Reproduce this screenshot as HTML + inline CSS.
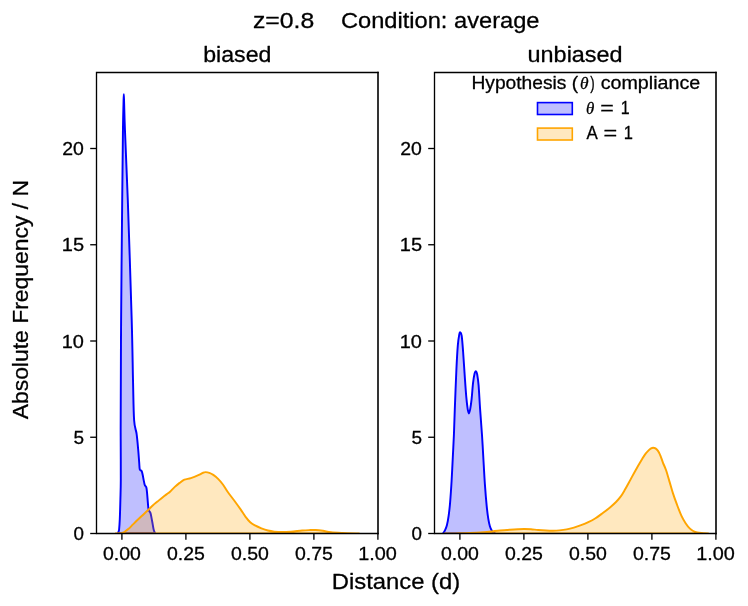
<!DOCTYPE html>
<html lang="en">
<head>
<meta charset="utf-8">
<title>z=0.8 Condition: average</title>
<style>
html,body{margin:0;padding:0;background:#fff;}
body{width:748px;height:606px;overflow:hidden;font-family:"Liberation Sans",sans-serif;}
svg{display:block;will-change:transform;}
svg text{stroke:#000;stroke-width:0.28px;stroke-linejoin:round;}
</style>
</head>
<body>
<svg width="748" height="606" viewBox="0 0 748 606" font-family='"Liberation Sans", sans-serif' fill="#000">
<rect width="748" height="606" fill="#fff"/>
<g>
<clipPath id="c0"><rect x="96.30" y="72.50" width="281.60" height="461.00"/></clipPath>
<g clip-path="url(#c0)">
<path d="M118.00,533.30 C118.10,533.00 118.42,532.13 118.60,531.50 C118.78,530.87 118.90,531.58 119.10,529.50 C119.30,527.42 119.58,524.05 119.80,519.00 C120.02,513.95 120.23,505.80 120.40,499.20 C120.57,492.60 120.75,489.27 120.80,479.40 C120.85,469.53 120.72,449.90 120.70,440.00 C120.68,430.10 120.63,440.00 120.70,420.00 C120.77,400.00 120.85,356.67 121.10,320.00 C121.35,283.33 121.89,231.67 122.20,200.00 C122.51,168.33 122.73,146.00 122.95,130.00 C123.17,114.00 123.36,109.95 123.50,104.00 C123.64,98.05 123.69,94.30 123.80,94.30 C123.91,94.30 123.96,98.05 124.15,104.00 C124.34,109.95 124.34,114.00 124.95,130.00 C125.56,146.00 126.67,168.33 127.80,200.00 C128.92,231.67 130.83,290.00 131.70,320.00 C132.57,350.00 132.60,363.33 133.00,380.00 C133.40,396.67 133.50,411.02 134.10,420.00 C134.70,428.98 135.92,428.95 136.60,433.90 C137.28,438.85 137.77,444.92 138.20,449.70 C138.63,454.48 138.93,459.30 139.20,462.60 C139.47,465.90 139.40,468.12 139.80,469.50 C140.20,470.88 141.13,470.07 141.60,470.90 C142.07,471.73 142.10,472.25 142.60,474.50 C143.10,476.75 143.98,482.27 144.60,484.40 C145.22,486.53 145.88,485.82 146.30,487.30 C146.72,488.78 146.83,490.65 147.10,493.30 C147.37,495.95 147.63,500.40 147.90,503.20 C148.17,506.00 148.27,508.45 148.70,510.10 C149.13,511.75 149.93,511.28 150.50,513.10 C151.07,514.92 151.60,518.37 152.10,521.00 C152.60,523.63 153.12,527.10 153.50,528.90 C153.88,530.70 154.12,531.07 154.40,531.80 C154.68,532.53 155.07,533.05 155.20,533.30 Z" fill="#0000ff" fill-opacity="0.25" stroke="none"/>
<path d="M118.00,533.30 C118.10,533.00 118.42,532.13 118.60,531.50 C118.78,530.87 118.90,531.58 119.10,529.50 C119.30,527.42 119.58,524.05 119.80,519.00 C120.02,513.95 120.23,505.80 120.40,499.20 C120.57,492.60 120.75,489.27 120.80,479.40 C120.85,469.53 120.72,449.90 120.70,440.00 C120.68,430.10 120.63,440.00 120.70,420.00 C120.77,400.00 120.85,356.67 121.10,320.00 C121.35,283.33 121.89,231.67 122.20,200.00 C122.51,168.33 122.73,146.00 122.95,130.00 C123.17,114.00 123.36,109.95 123.50,104.00 C123.64,98.05 123.69,94.30 123.80,94.30 C123.91,94.30 123.96,98.05 124.15,104.00 C124.34,109.95 124.34,114.00 124.95,130.00 C125.56,146.00 126.67,168.33 127.80,200.00 C128.92,231.67 130.83,290.00 131.70,320.00 C132.57,350.00 132.60,363.33 133.00,380.00 C133.40,396.67 133.50,411.02 134.10,420.00 C134.70,428.98 135.92,428.95 136.60,433.90 C137.28,438.85 137.77,444.92 138.20,449.70 C138.63,454.48 138.93,459.30 139.20,462.60 C139.47,465.90 139.40,468.12 139.80,469.50 C140.20,470.88 141.13,470.07 141.60,470.90 C142.07,471.73 142.10,472.25 142.60,474.50 C143.10,476.75 143.98,482.27 144.60,484.40 C145.22,486.53 145.88,485.82 146.30,487.30 C146.72,488.78 146.83,490.65 147.10,493.30 C147.37,495.95 147.63,500.40 147.90,503.20 C148.17,506.00 148.27,508.45 148.70,510.10 C149.13,511.75 149.93,511.28 150.50,513.10 C151.07,514.92 151.60,518.37 152.10,521.00 C152.60,523.63 153.12,527.10 153.50,528.90 C153.88,530.70 154.12,531.07 154.40,531.80 C154.68,532.53 155.07,533.05 155.20,533.30 L118.00,533.30" fill="none" stroke="#0000ff" stroke-width="1.95" stroke-linejoin="round" stroke-linecap="butt"/>
<path d="M115.00,533.50 C115.75,533.47 118.19,533.45 119.50,533.30 C120.81,533.15 121.88,532.94 122.85,532.60 C123.82,532.26 124.34,531.88 125.30,531.25 C126.26,530.62 127.36,529.90 128.60,528.80 C129.84,527.70 131.37,526.03 132.75,524.65 C134.13,523.27 135.25,522.08 136.90,520.50 C138.55,518.92 140.73,516.98 142.65,515.20 C144.57,513.42 146.68,511.45 148.40,509.80 C150.12,508.15 151.48,506.68 153.00,505.30 C154.52,503.93 155.92,502.87 157.50,501.55 C159.08,500.23 160.75,498.77 162.50,497.40 C164.25,496.02 166.75,494.25 168.00,493.30 C169.25,492.35 168.87,492.77 170.00,491.70 C171.13,490.63 173.20,488.37 174.80,486.90 C176.40,485.43 178.00,484.10 179.60,482.90 C181.20,481.70 182.52,480.50 184.40,479.70 C186.28,478.90 188.48,478.90 190.90,478.10 C193.32,477.30 196.90,475.78 198.90,474.90 C200.90,474.02 201.78,473.27 202.90,472.80 C204.02,472.33 204.53,472.10 205.60,472.10 C206.67,472.10 208.02,472.33 209.30,472.80 C210.58,473.27 211.83,473.88 213.30,474.90 C214.77,475.92 216.50,477.30 218.10,478.90 C219.70,480.50 221.28,482.32 222.90,484.50 C224.52,486.68 225.92,489.33 227.80,492.00 C229.68,494.67 232.07,497.60 234.20,500.50 C236.33,503.40 238.73,506.72 240.60,509.40 C242.47,512.08 243.80,514.47 245.40,516.60 C247.00,518.73 248.60,520.73 250.20,522.20 C251.80,523.67 253.13,524.38 255.00,525.40 C256.87,526.42 259.25,527.45 261.40,528.30 C263.55,529.15 265.75,529.95 267.90,530.50 C270.05,531.05 271.90,531.35 274.30,531.60 C276.70,531.85 279.53,532.00 282.30,532.00 C285.07,532.00 287.60,531.85 290.90,531.60 C294.20,531.35 299.08,530.75 302.10,530.50 C305.12,530.25 306.73,530.18 309.00,530.10 C311.27,530.02 313.38,529.88 315.70,530.00 C318.02,530.12 320.35,530.42 322.90,530.80 C325.45,531.18 327.78,531.93 331.00,532.30 C334.22,532.67 337.53,532.80 342.20,533.00 C346.87,533.20 356.20,533.42 359.00,533.50 Z" fill="#ffa500" fill-opacity="0.25" stroke="none"/>
<path d="M115.00,533.50 C115.75,533.47 118.19,533.45 119.50,533.30 C120.81,533.15 121.88,532.94 122.85,532.60 C123.82,532.26 124.34,531.88 125.30,531.25 C126.26,530.62 127.36,529.90 128.60,528.80 C129.84,527.70 131.37,526.03 132.75,524.65 C134.13,523.27 135.25,522.08 136.90,520.50 C138.55,518.92 140.73,516.98 142.65,515.20 C144.57,513.42 146.68,511.45 148.40,509.80 C150.12,508.15 151.48,506.68 153.00,505.30 C154.52,503.93 155.92,502.87 157.50,501.55 C159.08,500.23 160.75,498.77 162.50,497.40 C164.25,496.02 166.75,494.25 168.00,493.30 C169.25,492.35 168.87,492.77 170.00,491.70 C171.13,490.63 173.20,488.37 174.80,486.90 C176.40,485.43 178.00,484.10 179.60,482.90 C181.20,481.70 182.52,480.50 184.40,479.70 C186.28,478.90 188.48,478.90 190.90,478.10 C193.32,477.30 196.90,475.78 198.90,474.90 C200.90,474.02 201.78,473.27 202.90,472.80 C204.02,472.33 204.53,472.10 205.60,472.10 C206.67,472.10 208.02,472.33 209.30,472.80 C210.58,473.27 211.83,473.88 213.30,474.90 C214.77,475.92 216.50,477.30 218.10,478.90 C219.70,480.50 221.28,482.32 222.90,484.50 C224.52,486.68 225.92,489.33 227.80,492.00 C229.68,494.67 232.07,497.60 234.20,500.50 C236.33,503.40 238.73,506.72 240.60,509.40 C242.47,512.08 243.80,514.47 245.40,516.60 C247.00,518.73 248.60,520.73 250.20,522.20 C251.80,523.67 253.13,524.38 255.00,525.40 C256.87,526.42 259.25,527.45 261.40,528.30 C263.55,529.15 265.75,529.95 267.90,530.50 C270.05,531.05 271.90,531.35 274.30,531.60 C276.70,531.85 279.53,532.00 282.30,532.00 C285.07,532.00 287.60,531.85 290.90,531.60 C294.20,531.35 299.08,530.75 302.10,530.50 C305.12,530.25 306.73,530.18 309.00,530.10 C311.27,530.02 313.38,529.88 315.70,530.00 C318.02,530.12 320.35,530.42 322.90,530.80 C325.45,531.18 327.78,531.93 331.00,532.30 C334.22,532.67 337.53,532.80 342.20,533.00 C346.87,533.20 356.20,533.42 359.00,533.50 L115.00,533.50" fill="none" stroke="#ffa500" stroke-width="1.95" stroke-linejoin="round" stroke-linecap="butt"/>
</g>
<line x1="121.90" y1="533.50" x2="121.90" y2="539.70" stroke="#000" stroke-width="1.33"/>
<text x="102.94" y="559.50" font-size="17.70" textLength="37.92" lengthAdjust="spacingAndGlyphs">0.00</text>
<line x1="185.90" y1="533.50" x2="185.90" y2="539.70" stroke="#000" stroke-width="1.33"/>
<text x="166.94" y="559.50" font-size="17.70" textLength="37.98" lengthAdjust="spacingAndGlyphs">0.25</text>
<line x1="249.90" y1="533.50" x2="249.90" y2="539.70" stroke="#000" stroke-width="1.33"/>
<text x="230.94" y="559.50" font-size="17.70" textLength="37.92" lengthAdjust="spacingAndGlyphs">0.50</text>
<line x1="313.90" y1="533.50" x2="313.90" y2="539.70" stroke="#000" stroke-width="1.33"/>
<text x="294.94" y="559.50" font-size="17.70" textLength="37.98" lengthAdjust="spacingAndGlyphs">0.75</text>
<line x1="377.90" y1="533.50" x2="377.90" y2="539.70" stroke="#000" stroke-width="1.33"/>
<text x="358.19" y="559.50" font-size="17.70" textLength="38.69" lengthAdjust="spacingAndGlyphs">1.00</text>
<line x1="90.20" y1="533.50" x2="96.50" y2="533.50" stroke="#000" stroke-width="1.33"/>
<text x="73.46" y="540.00" font-size="17.70" textLength="10.47" lengthAdjust="spacingAndGlyphs">0</text>
<line x1="90.20" y1="437.25" x2="96.50" y2="437.25" stroke="#000" stroke-width="1.33"/>
<text x="73.44" y="443.75" font-size="17.70" textLength="10.56" lengthAdjust="spacingAndGlyphs">5</text>
<line x1="90.20" y1="341.00" x2="96.50" y2="341.00" stroke="#000" stroke-width="1.33"/>
<text x="61.78" y="347.50" font-size="17.70" textLength="22.20" lengthAdjust="spacingAndGlyphs">10</text>
<line x1="90.20" y1="244.75" x2="96.50" y2="244.75" stroke="#000" stroke-width="1.33"/>
<text x="61.78" y="251.25" font-size="17.70" textLength="22.27" lengthAdjust="spacingAndGlyphs">15</text>
<line x1="90.20" y1="148.50" x2="96.50" y2="148.50" stroke="#000" stroke-width="1.33"/>
<text x="62.32" y="155.00" font-size="17.70" textLength="21.64" lengthAdjust="spacingAndGlyphs">20</text>
<path d="M96.50,72.50 V533.50 M96.50,72.50 H378.00 M96.50,533.50 H378.00" fill="none" stroke="#000" stroke-width="1.33" stroke-linecap="square"/>
<path d="M378.00,71.83 V534.17" fill="none" stroke="#000" stroke-width="1.6" stroke-linecap="butt"/>
</g>
<g>
<clipPath id="c1"><rect x="434.30" y="72.50" width="281.60" height="461.00"/></clipPath>
<g clip-path="url(#c1)">
<path d="M443.00,533.50 C443.30,533.03 444.15,532.07 444.80,530.70 C445.45,529.33 446.25,527.87 446.90,525.30 C447.55,522.73 448.17,519.08 448.70,515.30 C449.23,511.52 449.62,508.35 450.10,502.60 C450.58,496.85 451.15,488.37 451.60,480.80 C452.05,473.23 452.42,464.83 452.80,457.20 C453.18,449.57 453.57,443.02 453.90,435.00 C454.23,426.98 454.38,420.02 454.80,409.10 C455.22,398.18 455.90,380.07 456.40,369.50 C456.90,358.93 457.33,351.47 457.80,345.70 C458.27,339.93 458.78,337.13 459.20,334.90 C459.62,332.67 459.88,332.15 460.30,332.30 C460.72,332.45 461.23,332.57 461.70,335.80 C462.17,339.03 462.60,345.10 463.10,351.70 C463.60,358.30 464.17,367.82 464.70,375.40 C465.23,382.98 465.80,391.58 466.30,397.20 C466.80,402.82 467.27,406.40 467.70,409.10 C468.13,411.80 468.48,413.40 468.90,413.40 C469.32,413.40 469.75,411.47 470.20,409.10 C470.65,406.73 471.13,403.48 471.60,399.20 C472.07,394.92 472.50,387.68 473.00,383.40 C473.50,379.12 474.08,375.50 474.60,373.50 C475.12,371.50 475.67,371.23 476.10,371.40 C476.53,371.57 476.78,372.18 477.20,374.50 C477.62,376.82 478.12,379.53 478.60,385.30 C479.08,391.07 479.53,400.82 480.10,409.10 C480.67,417.38 481.47,426.98 482.00,435.00 C482.53,443.02 482.82,448.97 483.30,457.20 C483.78,465.43 484.33,476.23 484.90,484.40 C485.47,492.57 486.13,500.45 486.70,506.20 C487.27,511.95 487.77,515.57 488.30,518.90 C488.83,522.23 489.35,524.32 489.90,526.20 C490.45,528.08 490.98,529.15 491.60,530.20 C492.22,531.25 493.00,531.95 493.60,532.50 C494.20,533.05 494.93,533.33 495.20,533.50 Z" fill="#0000ff" fill-opacity="0.25" stroke="none"/>
<path d="M443.00,533.50 C443.30,533.03 444.15,532.07 444.80,530.70 C445.45,529.33 446.25,527.87 446.90,525.30 C447.55,522.73 448.17,519.08 448.70,515.30 C449.23,511.52 449.62,508.35 450.10,502.60 C450.58,496.85 451.15,488.37 451.60,480.80 C452.05,473.23 452.42,464.83 452.80,457.20 C453.18,449.57 453.57,443.02 453.90,435.00 C454.23,426.98 454.38,420.02 454.80,409.10 C455.22,398.18 455.90,380.07 456.40,369.50 C456.90,358.93 457.33,351.47 457.80,345.70 C458.27,339.93 458.78,337.13 459.20,334.90 C459.62,332.67 459.88,332.15 460.30,332.30 C460.72,332.45 461.23,332.57 461.70,335.80 C462.17,339.03 462.60,345.10 463.10,351.70 C463.60,358.30 464.17,367.82 464.70,375.40 C465.23,382.98 465.80,391.58 466.30,397.20 C466.80,402.82 467.27,406.40 467.70,409.10 C468.13,411.80 468.48,413.40 468.90,413.40 C469.32,413.40 469.75,411.47 470.20,409.10 C470.65,406.73 471.13,403.48 471.60,399.20 C472.07,394.92 472.50,387.68 473.00,383.40 C473.50,379.12 474.08,375.50 474.60,373.50 C475.12,371.50 475.67,371.23 476.10,371.40 C476.53,371.57 476.78,372.18 477.20,374.50 C477.62,376.82 478.12,379.53 478.60,385.30 C479.08,391.07 479.53,400.82 480.10,409.10 C480.67,417.38 481.47,426.98 482.00,435.00 C482.53,443.02 482.82,448.97 483.30,457.20 C483.78,465.43 484.33,476.23 484.90,484.40 C485.47,492.57 486.13,500.45 486.70,506.20 C487.27,511.95 487.77,515.57 488.30,518.90 C488.83,522.23 489.35,524.32 489.90,526.20 C490.45,528.08 490.98,529.15 491.60,530.20 C492.22,531.25 493.00,531.95 493.60,532.50 C494.20,533.05 494.93,533.33 495.20,533.50 L443.00,533.50" fill="none" stroke="#0000ff" stroke-width="1.95" stroke-linejoin="round" stroke-linecap="butt"/>
<path d="M444.00,533.50 C445.83,533.48 452.00,533.45 455.00,533.40 C458.00,533.35 459.50,533.28 462.00,533.20 C464.50,533.12 466.93,533.03 470.00,532.90 C473.07,532.77 477.57,532.57 480.40,532.40 C483.23,532.23 485.07,532.07 487.00,531.90 C488.93,531.73 489.83,531.63 492.00,531.40 C494.17,531.17 497.00,530.78 500.00,530.50 C503.00,530.22 507.00,529.92 510.00,529.70 C513.00,529.48 515.58,529.32 518.00,529.20 C520.42,529.08 522.33,528.98 524.50,529.00 C526.67,529.02 528.72,529.13 531.00,529.30 C533.28,529.47 535.70,529.80 538.20,530.00 C540.70,530.20 543.55,530.38 546.00,530.50 C548.45,530.62 550.67,530.72 552.90,530.70 C555.13,530.68 557.10,530.62 559.40,530.40 C561.70,530.18 564.28,529.87 566.70,529.40 C569.12,528.93 571.50,528.30 573.90,527.60 C576.30,526.90 578.70,526.10 581.10,525.20 C583.50,524.30 585.90,523.35 588.30,522.20 C590.70,521.05 593.08,519.83 595.50,518.30 C597.92,516.77 600.38,514.82 602.80,513.00 C605.22,511.18 607.80,509.23 610.00,507.40 C612.20,505.57 614.20,503.83 616.00,502.00 C617.80,500.17 619.30,498.47 620.80,496.40 C622.30,494.33 623.38,492.40 625.00,489.60 C626.62,486.80 628.68,482.92 630.50,479.60 C632.32,476.28 634.03,473.00 635.90,469.70 C637.77,466.40 640.17,462.35 641.70,459.80 C643.23,457.25 643.95,455.97 645.10,454.40 C646.25,452.83 647.60,451.40 648.60,450.40 C649.60,449.40 650.35,448.85 651.10,448.40 C651.85,447.95 652.37,447.70 653.10,447.70 C653.83,447.70 654.68,447.87 655.50,448.40 C656.32,448.93 657.17,449.67 658.00,450.90 C658.83,452.13 659.67,453.82 660.50,455.80 C661.33,457.78 662.08,460.43 663.00,462.80 C663.92,465.17 664.92,466.87 666.00,470.00 C667.08,473.13 668.35,477.75 669.50,481.60 C670.65,485.45 671.65,489.25 672.90,493.10 C674.15,496.95 675.55,500.85 677.00,504.70 C678.45,508.55 680.17,513.12 681.60,516.20 C683.03,519.28 684.25,521.17 685.60,523.20 C686.95,525.23 688.43,527.10 689.70,528.40 C690.97,529.70 691.95,530.32 693.20,531.00 C694.45,531.68 695.47,532.15 697.20,532.50 C698.93,532.85 701.77,532.93 703.60,533.10 C705.43,533.27 707.43,533.43 708.20,533.50 Z" fill="#ffa500" fill-opacity="0.25" stroke="none"/>
<path d="M444.00,533.50 C445.83,533.48 452.00,533.45 455.00,533.40 C458.00,533.35 459.50,533.28 462.00,533.20 C464.50,533.12 466.93,533.03 470.00,532.90 C473.07,532.77 477.57,532.57 480.40,532.40 C483.23,532.23 485.07,532.07 487.00,531.90 C488.93,531.73 489.83,531.63 492.00,531.40 C494.17,531.17 497.00,530.78 500.00,530.50 C503.00,530.22 507.00,529.92 510.00,529.70 C513.00,529.48 515.58,529.32 518.00,529.20 C520.42,529.08 522.33,528.98 524.50,529.00 C526.67,529.02 528.72,529.13 531.00,529.30 C533.28,529.47 535.70,529.80 538.20,530.00 C540.70,530.20 543.55,530.38 546.00,530.50 C548.45,530.62 550.67,530.72 552.90,530.70 C555.13,530.68 557.10,530.62 559.40,530.40 C561.70,530.18 564.28,529.87 566.70,529.40 C569.12,528.93 571.50,528.30 573.90,527.60 C576.30,526.90 578.70,526.10 581.10,525.20 C583.50,524.30 585.90,523.35 588.30,522.20 C590.70,521.05 593.08,519.83 595.50,518.30 C597.92,516.77 600.38,514.82 602.80,513.00 C605.22,511.18 607.80,509.23 610.00,507.40 C612.20,505.57 614.20,503.83 616.00,502.00 C617.80,500.17 619.30,498.47 620.80,496.40 C622.30,494.33 623.38,492.40 625.00,489.60 C626.62,486.80 628.68,482.92 630.50,479.60 C632.32,476.28 634.03,473.00 635.90,469.70 C637.77,466.40 640.17,462.35 641.70,459.80 C643.23,457.25 643.95,455.97 645.10,454.40 C646.25,452.83 647.60,451.40 648.60,450.40 C649.60,449.40 650.35,448.85 651.10,448.40 C651.85,447.95 652.37,447.70 653.10,447.70 C653.83,447.70 654.68,447.87 655.50,448.40 C656.32,448.93 657.17,449.67 658.00,450.90 C658.83,452.13 659.67,453.82 660.50,455.80 C661.33,457.78 662.08,460.43 663.00,462.80 C663.92,465.17 664.92,466.87 666.00,470.00 C667.08,473.13 668.35,477.75 669.50,481.60 C670.65,485.45 671.65,489.25 672.90,493.10 C674.15,496.95 675.55,500.85 677.00,504.70 C678.45,508.55 680.17,513.12 681.60,516.20 C683.03,519.28 684.25,521.17 685.60,523.20 C686.95,525.23 688.43,527.10 689.70,528.40 C690.97,529.70 691.95,530.32 693.20,531.00 C694.45,531.68 695.47,532.15 697.20,532.50 C698.93,532.85 701.77,532.93 703.60,533.10 C705.43,533.27 707.43,533.43 708.20,533.50 L444.00,533.50" fill="none" stroke="#ffa500" stroke-width="1.95" stroke-linejoin="round" stroke-linecap="butt"/>
</g>
<line x1="459.90" y1="533.50" x2="459.90" y2="539.70" stroke="#000" stroke-width="1.33"/>
<text x="440.94" y="559.50" font-size="17.70" textLength="37.92" lengthAdjust="spacingAndGlyphs">0.00</text>
<line x1="523.90" y1="533.50" x2="523.90" y2="539.70" stroke="#000" stroke-width="1.33"/>
<text x="504.94" y="559.50" font-size="17.70" textLength="37.98" lengthAdjust="spacingAndGlyphs">0.25</text>
<line x1="587.90" y1="533.50" x2="587.90" y2="539.70" stroke="#000" stroke-width="1.33"/>
<text x="568.94" y="559.50" font-size="17.70" textLength="37.92" lengthAdjust="spacingAndGlyphs">0.50</text>
<line x1="651.90" y1="533.50" x2="651.90" y2="539.70" stroke="#000" stroke-width="1.33"/>
<text x="632.94" y="559.50" font-size="17.70" textLength="37.98" lengthAdjust="spacingAndGlyphs">0.75</text>
<line x1="715.90" y1="533.50" x2="715.90" y2="539.70" stroke="#000" stroke-width="1.33"/>
<text x="696.19" y="559.50" font-size="17.70" textLength="38.69" lengthAdjust="spacingAndGlyphs">1.00</text>
<line x1="428.20" y1="533.50" x2="434.50" y2="533.50" stroke="#000" stroke-width="1.33"/>
<text x="411.46" y="540.00" font-size="17.70" textLength="10.47" lengthAdjust="spacingAndGlyphs">0</text>
<line x1="428.20" y1="437.25" x2="434.50" y2="437.25" stroke="#000" stroke-width="1.33"/>
<text x="411.44" y="443.75" font-size="17.70" textLength="10.56" lengthAdjust="spacingAndGlyphs">5</text>
<line x1="428.20" y1="341.00" x2="434.50" y2="341.00" stroke="#000" stroke-width="1.33"/>
<text x="399.78" y="347.50" font-size="17.70" textLength="22.20" lengthAdjust="spacingAndGlyphs">10</text>
<line x1="428.20" y1="244.75" x2="434.50" y2="244.75" stroke="#000" stroke-width="1.33"/>
<text x="399.78" y="251.25" font-size="17.70" textLength="22.27" lengthAdjust="spacingAndGlyphs">15</text>
<line x1="428.20" y1="148.50" x2="434.50" y2="148.50" stroke="#000" stroke-width="1.33"/>
<text x="400.32" y="155.00" font-size="17.70" textLength="21.64" lengthAdjust="spacingAndGlyphs">20</text>
<path d="M434.50,72.50 V533.50 M434.50,72.50 H716.00 M434.50,533.50 H716.00" fill="none" stroke="#000" stroke-width="1.33" stroke-linecap="square"/>
<path d="M716.00,71.83 V534.17" fill="none" stroke="#000" stroke-width="1.6" stroke-linecap="butt"/>
</g>
<text x="252.90" y="27.80" font-size="21.30" textLength="61.28" lengthAdjust="spacingAndGlyphs">z=0.8</text>
<text x="340.90" y="27.80" font-size="21.30" textLength="198.65" lengthAdjust="spacingAndGlyphs">Condition: average</text>
<text x="203.21" y="61.70" font-size="21.30" textLength="68.18" lengthAdjust="spacingAndGlyphs">biased</text>
<text x="527.58" y="61.70" font-size="21.30" textLength="95.03" lengthAdjust="spacingAndGlyphs">unbiased</text>
<text x="331.74" y="588.90" font-size="21.30" textLength="128.53" lengthAdjust="spacingAndGlyphs">Distance (d)</text>
<text transform="translate(28.2,419.30) rotate(-90)" x="-0.04" y="0" font-size="21.30" textLength="239.31" lengthAdjust="spacingAndGlyphs">Absolute Frequency / N</text>
<text x="471.42" y="88.50" font-size="17.70" textLength="106.79" lengthAdjust="spacingAndGlyphs">Hypothesis (</text>
<text x="580.05" y="88.50" font-size="17.70" textLength="8.56" lengthAdjust="spacingAndGlyphs" font-family='"Liberation Serif", serif' font-style="italic">θ</text>
<text x="590.22" y="88.50" font-size="17.70" textLength="4.40" lengthAdjust="spacingAndGlyphs">)</text>
<text x="600.66" y="88.50" font-size="17.70" textLength="99.51" lengthAdjust="spacingAndGlyphs">compliance</text>
<rect x="537.5" y="102.6" width="34.8" height="11.9" fill="#0000ff" fill-opacity="0.25" stroke="none"/>
<rect x="537.5" y="102.6" width="34.8" height="11.9" fill="none" stroke="#0000ff" stroke-width="1.6"/>
<rect x="537.5" y="128.1" width="34.8" height="11.9" fill="#ffa500" fill-opacity="0.25" stroke="none"/>
<rect x="537.5" y="128.1" width="34.8" height="11.9" fill="none" stroke="#ffa500" stroke-width="1.6"/>
<text x="585.97" y="114.40" font-size="17.70" textLength="8.32" lengthAdjust="spacingAndGlyphs" font-family='"Liberation Serif", serif' font-style="italic">θ</text>
<text x="600.16" y="114.40" font-size="17.70" textLength="13.58" lengthAdjust="spacingAndGlyphs">=</text>
<text x="620.78" y="114.40" font-size="17.70" textLength="8.90" lengthAdjust="spacingAndGlyphs">1</text>
<text x="586.57" y="139.40" font-size="17.70" textLength="11.27" lengthAdjust="spacingAndGlyphs">A</text>
<text x="603.55" y="139.40" font-size="17.70" textLength="13.70" lengthAdjust="spacingAndGlyphs">=</text>
<text x="623.85" y="139.40" font-size="17.70" textLength="9.16" lengthAdjust="spacingAndGlyphs">1</text>
</svg>
</body>
</html>
